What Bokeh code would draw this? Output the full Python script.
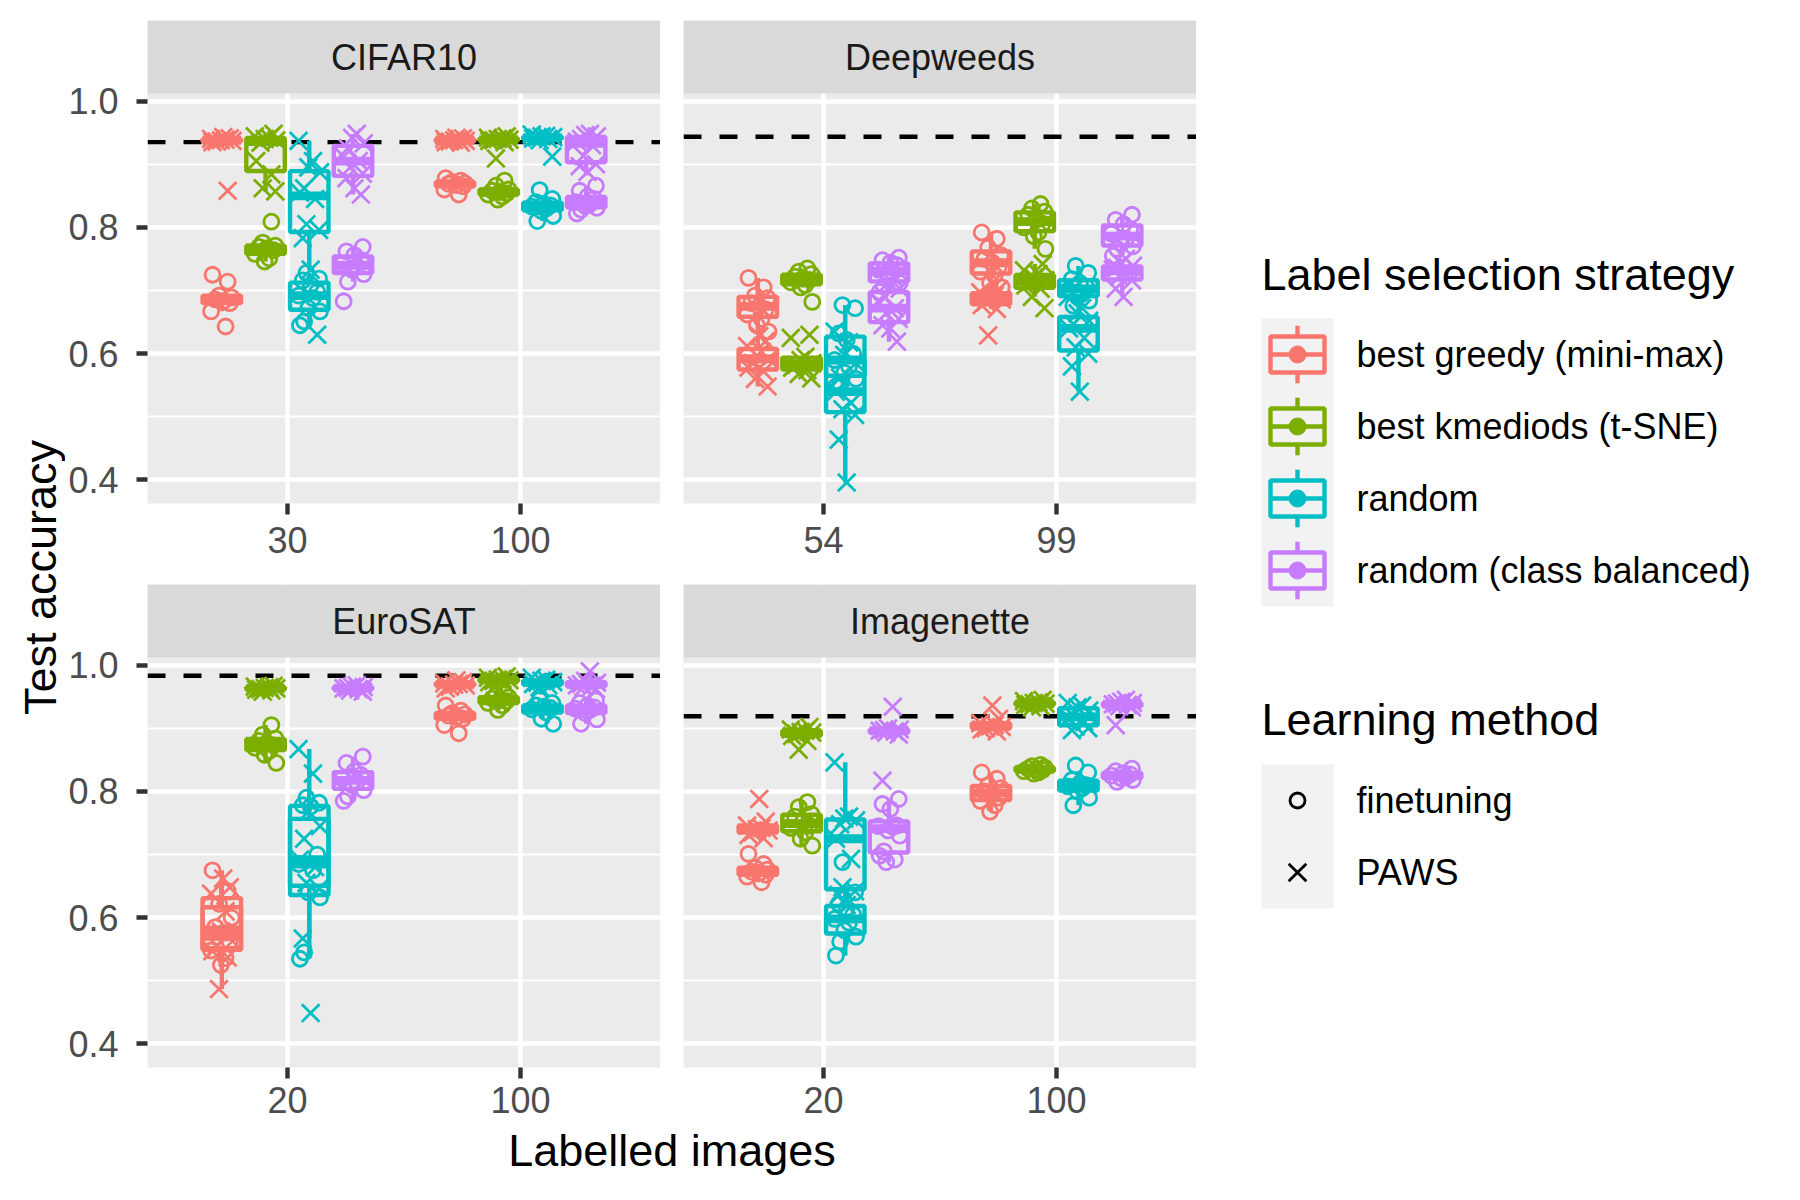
import numpy as np
from bokeh.plotting import figure
from bokeh.models import Range1d, LinearAxis, FixedTicker, Grid, Span, NumeralTickFormatter
from bokeh.layouts import row, column
from bokeh.embed import file_html
from bokeh.resources import INLINE
from bokeh.core.properties import value

FONT = "Liberation Sans"

STRATEGIES = ["best greedy (mini-max)", "best kmediods (t-SNE)", "random", "random (class balanced)"]
STRATEGY_COLORS = ["#F8766D", "#7CAE00", "#00BFC4", "#C77CFF"]
METHODS = ["finetuning", "PAWS"]
METHOD_MARKERS = ["circle", "x"]

DATASETS = ["CIFAR10", "Deepweeds", "EuroSAT", "Imagenette"]
CIFAR10_LABELLED = ["30", "100"]
DEEPWEEDS_LABELLED = ["54", "99"]
EUROSAT_LABELLED = ["20", "100"]
IMAGENETTE_LABELLED = ["20", "100"]
FULLY_SUPERVISED = [0.935, 0.9435, 0.983, 0.919]

# [first labelled count, second labelled count] -> one list of accuracies per strategy
CIFAR10_FINETUNING = [
    [[0.725, 0.714, 0.692, 0.689, 0.686, 0.683, 0.680, 0.667, 0.643],
     [0.809, 0.776, 0.771, 0.769, 0.767, 0.764, 0.758, 0.751, 0.746],
     [0.728, 0.719, 0.716, 0.709, 0.698, 0.692, 0.688, 0.672, 0.667, 0.651, 0.645],
     [0.769, 0.762, 0.756, 0.748, 0.742, 0.738, 0.733, 0.726, 0.714, 0.683]],
    [[0.878, 0.874, 0.872, 0.870, 0.869, 0.867, 0.865, 0.860, 0.852],
     [0.874, 0.866, 0.860, 0.858, 0.856, 0.854, 0.852, 0.849, 0.844],
     [0.859, 0.845, 0.840, 0.837, 0.835, 0.833, 0.830, 0.826, 0.818, 0.810],
     [0.866, 0.858, 0.849, 0.845, 0.840, 0.837, 0.834, 0.831, 0.828, 0.822]],
]
CIFAR10_PAWS = [
    [[0.943, 0.941, 0.940, 0.939, 0.938, 0.937, 0.936, 0.935, 0.858],
     [0.948, 0.944, 0.942, 0.940, 0.938, 0.934, 0.905, 0.884, 0.862, 0.857],
     [0.937, 0.905, 0.895, 0.887, 0.862, 0.855, 0.845, 0.805, 0.796, 0.783, 0.733, 0.630],
     [0.948, 0.942, 0.933, 0.925, 0.912, 0.905, 0.895, 0.885, 0.878, 0.862, 0.852]],
    [[0.942, 0.941, 0.940, 0.939, 0.938, 0.937, 0.936, 0.935, 0.934],
     [0.944, 0.942, 0.941, 0.940, 0.939, 0.938, 0.937, 0.935, 0.909],
     [0.947, 0.945, 0.944, 0.943, 0.942, 0.941, 0.940, 0.938, 0.912],
     [0.948, 0.946, 0.944, 0.940, 0.936, 0.930, 0.913, 0.900, 0.897, 0.888]],
]
DEEPWEEDS_FINETUNING = [
    [[0.720, 0.705, 0.692, 0.688, 0.680, 0.675, 0.670, 0.662, 0.655, 0.645, 0.635],
     [0.735, 0.730, 0.726, 0.722, 0.719, 0.717, 0.713, 0.709, 0.705, 0.682],
     [0.677, 0.672, 0.632, 0.622, 0.600, 0.590, 0.580, 0.570, 0.560, 0.552, 0.548],
     [0.752, 0.748, 0.744, 0.740, 0.733, 0.728, 0.722, 0.712, 0.706, 0.698]],
    [[0.792, 0.782, 0.768, 0.756, 0.750, 0.744, 0.738, 0.730, 0.724, 0.712, 0.705],
     [0.837, 0.830, 0.825, 0.820, 0.812, 0.806, 0.800, 0.792, 0.786, 0.766],
     [0.739, 0.728, 0.718, 0.712, 0.705, 0.700, 0.695, 0.690, 0.684, 0.676],
     [0.820, 0.812, 0.805, 0.797, 0.790, 0.782, 0.775, 0.770, 0.766, 0.755]],
]
DEEPWEEDS_PAWS = [
    [[0.628, 0.620, 0.612, 0.603, 0.597, 0.592, 0.585, 0.578, 0.572, 0.560, 0.548],
     [0.630, 0.625, 0.595, 0.590, 0.585, 0.582, 0.578, 0.574, 0.568, 0.561],
     [0.635, 0.618, 0.598, 0.585, 0.562, 0.540, 0.522, 0.512, 0.503, 0.464, 0.396],
     [0.722, 0.712, 0.703, 0.692, 0.680, 0.672, 0.664, 0.655, 0.645, 0.640, 0.619]],
    [[0.712, 0.702, 0.697, 0.692, 0.689, 0.686, 0.682, 0.677, 0.671, 0.629],
     [0.742, 0.732, 0.726, 0.720, 0.716, 0.713, 0.708, 0.703, 0.690, 0.672],
     [0.690, 0.672, 0.664, 0.652, 0.647, 0.640, 0.625, 0.610, 0.600, 0.580, 0.540],
     [0.750, 0.743, 0.739, 0.736, 0.733, 0.729, 0.722, 0.716, 0.703, 0.690]],
]
EUROSAT_FINETUNING = [
    [[0.675, 0.642, 0.622, 0.600, 0.585, 0.576, 0.562, 0.548, 0.536, 0.525],
     [0.905, 0.890, 0.884, 0.880, 0.876, 0.873, 0.869, 0.864, 0.858, 0.845],
     [0.790, 0.782, 0.778, 0.776, 0.700, 0.685, 0.675, 0.640, 0.632, 0.545, 0.535],
     [0.855, 0.845, 0.832, 0.826, 0.820, 0.815, 0.810, 0.802, 0.792, 0.785]],
    [[0.936, 0.928, 0.924, 0.922, 0.920, 0.918, 0.915, 0.905, 0.892],
     [0.955, 0.952, 0.949, 0.947, 0.945, 0.943, 0.940, 0.936, 0.929],
     [0.945, 0.940, 0.936, 0.934, 0.932, 0.930, 0.925, 0.915, 0.907],
     [0.944, 0.940, 0.936, 0.933, 0.931, 0.929, 0.924, 0.914, 0.907]],
]
EUROSAT_PAWS = [
    [[0.662, 0.648, 0.638, 0.610, 0.578, 0.563, 0.556, 0.547, 0.537, 0.487],
     [0.967, 0.966, 0.965, 0.964, 0.963, 0.962, 0.961, 0.960, 0.958],
     [0.867, 0.828, 0.768, 0.745, 0.725, 0.692, 0.680, 0.655, 0.646, 0.567, 0.449],
     [0.968, 0.966, 0.965, 0.964, 0.963, 0.962, 0.960, 0.958]],
    [[0.976, 0.973, 0.971, 0.970, 0.969, 0.968, 0.966, 0.963],
     [0.982, 0.980, 0.978, 0.977, 0.976, 0.975, 0.973, 0.971],
     [0.980, 0.977, 0.975, 0.973, 0.972, 0.970, 0.968, 0.965],
     [0.990, 0.975, 0.972, 0.970, 0.968, 0.967, 0.965, 0.962]],
]
IMAGENETTE_FINETUNING = [
    [[0.701, 0.685, 0.679, 0.676, 0.673, 0.671, 0.668, 0.665, 0.656],
     [0.783, 0.775, 0.764, 0.760, 0.752, 0.746, 0.742, 0.735, 0.725, 0.714],
     [0.688, 0.640, 0.622, 0.615, 0.605, 0.598, 0.592, 0.580, 0.570, 0.562, 0.540],
     [0.788, 0.780, 0.772, 0.746, 0.745, 0.744, 0.738, 0.730, 0.705, 0.698, 0.692, 0.688]],
    [[0.830, 0.820, 0.810, 0.805, 0.800, 0.795, 0.790, 0.785, 0.778, 0.768],
     [0.842, 0.840, 0.838, 0.836, 0.835, 0.834, 0.832, 0.830, 0.828],
     [0.841, 0.830, 0.818, 0.813, 0.810, 0.808, 0.805, 0.800, 0.790, 0.778],
     [0.836, 0.832, 0.829, 0.827, 0.825, 0.823, 0.821, 0.818, 0.815]],
]
IMAGENETTE_PAWS = [
    [[0.788, 0.752, 0.746, 0.742, 0.740, 0.738, 0.735, 0.731, 0.726],
     [0.902, 0.898, 0.896, 0.894, 0.893, 0.891, 0.888, 0.880, 0.866],
     [0.846, 0.760, 0.757, 0.754, 0.748, 0.725, 0.693, 0.648, 0.642, 0.636, 0.620],
     [0.934, 0.900, 0.898, 0.897, 0.896, 0.895, 0.893, 0.890, 0.817]],
    [[0.936, 0.915, 0.908, 0.905, 0.903, 0.902, 0.900, 0.898, 0.895],
     [0.945, 0.943, 0.941, 0.940, 0.939, 0.938, 0.937, 0.935, 0.933],
     [0.940, 0.936, 0.933, 0.928, 0.920, 0.916, 0.910, 0.903, 0.900, 0.897],
     [0.945, 0.942, 0.940, 0.939, 0.938, 0.937, 0.935, 0.933, 0.905]],
]

# ---------------------------------------------------------------- styling
PANEL_PX = 410          # height of the data area of a panel
STRIP_PX = 73           # height of the facet strip above it
X_RANGE = (0.4, 2.6)
Y_TOP_DATA = 1.012
Y_BOTTOM = Y_TOP_DATA - PANEL_PX / 631.5
STRIP_TOP = Y_TOP_DATA + STRIP_PX * (Y_TOP_DATA - Y_BOTTOM) / PANEL_PX
DODGE = [-0.28125, -0.09375, 0.09375, 0.28125]
BOX_W = 0.165
JITTER = [-0.040, 0.025, -0.012, 0.042, -0.028, 0.006, 0.034, -0.046, 0.016, -0.004, 0.046, -0.022]
LW = 4.4
CIRCLE_SIZE = 15
X_SIZE = 25
PANEL_BG = "#EBEBEB"
STRIP_BG = "#D9D9D9"


def box_stats(v):
    v = np.asarray(v, dtype=float)
    q1, med, q3 = np.percentile(v, [25, 50, 75])
    iqr = q3 - q1
    lo = v[v >= q1 - 1.5 * iqr].min()
    hi = v[v <= q3 + 1.5 * iqr].max()
    return q1, med, q3, lo, hi


def base_fig(width, height, xr, yr, left=0, right=0, top=0, bottom=0, bg="white"):
    return figure(width=width, height=height, x_range=Range1d(*xr), y_range=Range1d(*yr),
                  output_backend="svg", toolbar_location=None,
                  x_axis_type=None, y_axis_type=None,
                  min_border_left=left, min_border_right=right,
                  min_border_top=top, min_border_bottom=bottom,
                  background_fill_color=bg, border_fill_color="white",
                  outline_line_color=None)


def make_panel(name, ticks, ft, paws, ref, width, height, left, top, bottom, show_y, standoff):
    p = base_fig(width, height, X_RANGE, (Y_BOTTOM, STRIP_TOP), left=left, top=top,
                 bottom=bottom, bg=PANEL_BG)
    xt = FixedTicker(ticks=[1, 2])
    yt = FixedTicker(ticks=[0.4, 0.6, 0.8, 1.0], minor_ticks=[0.5, 0.7, 0.9])
    p.add_layout(Grid(dimension=0, ticker=xt, grid_line_color="white", grid_line_width=LW))
    p.add_layout(Grid(dimension=1, ticker=yt, grid_line_color="white", grid_line_width=LW,
                      minor_grid_line_color="white", minor_grid_line_width=LW / 2))
    p.add_layout(Span(location=ref, dimension="width", line_color="black", line_width=LW,
                      line_dash="18 18", level="underlay"))

    # facet strip
    p.quad(left=[X_RANGE[0]], right=[X_RANGE[1]], bottom=[Y_TOP_DATA], top=[STRIP_TOP],
           fill_color=STRIP_BG, line_color=None)
    p.text(x=[sum(X_RANGE) / 2], y=[(Y_TOP_DATA + STRIP_TOP) / 2], text=[name],
           text_align="center", text_baseline="middle", text_font=value(FONT),
           text_font_size="36px", text_color="#1A1A1A")

    xa = LinearAxis(ticker=xt, major_label_overrides={1: ticks[0], 2: ticks[1]},
                    axis_line_color=None, major_tick_line_color="#333333",
                    major_tick_line_width=LW, major_tick_out=11, major_tick_in=0,
                    minor_tick_line_color=None, major_label_standoff=standoff,
                    major_label_text_font=FONT, major_label_text_font_size="36px",
                    major_label_text_color="#4D4D4D")
    p.add_layout(xa, "below")
    if show_y:
        ya = LinearAxis(ticker=yt, formatter=NumeralTickFormatter(format="0.0"),
                        axis_line_color=None, major_tick_line_color="#333333",
                        major_tick_line_width=LW, major_tick_out=11, major_tick_in=0,
                        minor_tick_line_color=None, major_label_standoff=18,
                        major_label_text_font=FONT, major_label_text_font_size="36px",
                        major_label_text_color="#4D4D4D")
        p.add_layout(ya, "left")

    # boxplots
    bx, bq1, bmed, bq3, blo, bhi, bcol = [], [], [], [], [], [], []
    for groups in (ft, paws):
        for ci, per_strategy in enumerate(groups):
            for si, vals in enumerate(per_strategy):
                q1, med, q3, lo, hi = box_stats(vals)
                bx.append(ci + 1 + DODGE[si])
                bq1.append(q1); bmed.append(med); bq3.append(q3)
                blo.append(lo); bhi.append(hi); bcol.append(STRATEGY_COLORS[si])
    bx = np.array(bx)
    p.segment(x0=bx, y0=bq3, x1=bx, y1=bhi, line_color=bcol, line_width=LW)
    p.segment(x0=bx, y0=blo, x1=bx, y1=bq1, line_color=bcol, line_width=LW)
    p.vbar(x=bx, width=BOX_W, top=bq3, bottom=bq1, fill_color=None, line_color=bcol,
           line_width=LW)
    p.segment(x0=bx - BOX_W / 2, y0=bmed, x1=bx + BOX_W / 2, y1=bmed, line_color=bcol,
              line_width=2 * LW)

    # jittered points
    for mi, groups in enumerate((ft, paws)):
        px, py, pc = [], [], []
        for ci, per_strategy in enumerate(groups):
            for si, vals in enumerate(per_strategy):
                for k, v in enumerate(vals):
                    px.append(ci + 1 + DODGE[si] + JITTER[(k + 5 * mi + si) % len(JITTER)])
                    py.append(v)
                    pc.append(STRATEGY_COLORS[si])
        if METHOD_MARKERS[mi] == "circle":
            p.scatter(px, py, marker="circle", size=CIRCLE_SIZE, fill_color=None,
                      line_color=pc, line_width=2.8)
        else:
            p.scatter(px, py, marker="x", size=X_SIZE, line_color=pc, line_width=2.8)
    return p


# ---------------------------------------------------------------- layout
YT_W = 65
W_LEFT, W_RIGHT = 595, 536
B_LEFT, B_RIGHT = 82, 23
TOP_PAD = 20
FRAME_H = PANEL_PX + STRIP_PX
BOT_TOP, BOT_BOTTOM = 81, 58

h_top = TOP_PAD + FRAME_H + BOT_TOP
h_bot = FRAME_H + BOT_BOTTOM

panel_a = make_panel(DATASETS[0], CIFAR10_LABELLED, CIFAR10_FINETUNING, CIFAR10_PAWS,
                     FULLY_SUPERVISED[0], W_LEFT, h_top, B_LEFT, TOP_PAD, BOT_TOP, True, 12)
panel_b = make_panel(DATASETS[1], DEEPWEEDS_LABELLED, DEEPWEEDS_FINETUNING, DEEPWEEDS_PAWS,
                     FULLY_SUPERVISED[1], W_RIGHT, h_top, B_RIGHT, TOP_PAD, BOT_TOP, False, 12)
panel_c = make_panel(DATASETS[2], EUROSAT_LABELLED, EUROSAT_FINETUNING, EUROSAT_PAWS,
                     FULLY_SUPERVISED[2], W_LEFT, h_bot, B_LEFT, 0, BOT_BOTTOM, True, 8)
panel_d = make_panel(DATASETS[3], IMAGENETTE_LABELLED, IMAGENETTE_FINETUNING, IMAGENETTE_PAWS,
                     FULLY_SUPERVISED[3], W_RIGHT, h_bot, B_RIGHT, 0, BOT_BOTTOM, False, 8)

grid_h = h_top + h_bot
ytitle = base_fig(YT_W, grid_h, (0, YT_W), (grid_h, 0))
ytitle.text(x=[40], y=[577], text=["Test accuracy"], angle=np.pi / 2, text_align="center",
            text_baseline="middle", text_font=value(FONT), text_font_size="45px",
            text_color="black")

TOTAL_H = 1184
xt_h = TOTAL_H - grid_h
xt_w = YT_W + W_LEFT + W_RIGHT
xtitle = base_fig(xt_w, xt_h, (0, xt_w), (xt_h, 0))
xtitle.text(x=[YT_W + B_LEFT + (W_LEFT - B_LEFT + W_RIGHT) / 2], y=[25],
            text=["Labelled images"], text_align="center", text_baseline="middle",
            text_font=value(FONT), text_font_size="45px", text_color="black")

# legend
LG_W = 1784 - xt_w
lg = base_fig(LG_W, TOTAL_H, (0, LG_W), (TOTAL_H, 0))
KEY = 72
KEY_LEFT = 1261 - xt_w
TEXT_LEFT = KEY_LEFT + 95
cx = KEY_LEFT + KEY / 2

top1 = 318
lg.text(x=[KEY_LEFT], y=[274], text=["Label selection strategy"], text_align="left",
        text_baseline="middle", text_font=value(FONT), text_font_size="45px", text_color="black")
lg.quad(left=[KEY_LEFT], right=[KEY_LEFT + KEY], top=[top1], bottom=[top1 + KEY * len(STRATEGIES)],
        fill_color="#F2F2F2", line_color=None)
rows1 = np.array([top1 + KEY * (i + 0.5) for i in range(len(STRATEGIES))])
lg.segment(x0=[cx] * 4, y0=rows1 - 0.4 * KEY, x1=[cx] * 4, y1=rows1 - 0.25 * KEY,
           line_color=STRATEGY_COLORS, line_width=LW)
lg.segment(x0=[cx] * 4, y0=rows1 + 0.25 * KEY, x1=[cx] * 4, y1=rows1 + 0.4 * KEY,
           line_color=STRATEGY_COLORS, line_width=LW)
lg.rect(x=[cx] * 4, y=rows1, width=0.75 * KEY, height=0.5 * KEY, fill_color=None,
        line_color=STRATEGY_COLORS, line_width=LW)
lg.segment(x0=[cx - 0.375 * KEY] * 4, y0=rows1, x1=[cx + 0.375 * KEY] * 4, y1=rows1,
           line_color=STRATEGY_COLORS, line_width=LW)
lg.scatter(x=[cx] * 4, y=rows1, marker="circle", size=17, fill_color=STRATEGY_COLORS,
           line_color=STRATEGY_COLORS)
lg.text(x=[TEXT_LEFT] * 4, y=rows1, text=STRATEGIES, text_align="left", text_baseline="middle",
        text_font=value(FONT), text_font_size="36px", text_color="black")

top2 = 764
lg.text(x=[KEY_LEFT], y=[719], text=["Learning method"], text_align="left",
        text_baseline="middle", text_font=value(FONT), text_font_size="45px", text_color="black")
lg.quad(left=[KEY_LEFT], right=[KEY_LEFT + KEY], top=[top2], bottom=[top2 + KEY * len(METHODS)],
        fill_color="#F2F2F2", line_color=None)
rows2 = [top2 + KEY * (i + 0.5) for i in range(len(METHODS))]
lg.scatter(x=[cx], y=[rows2[0]], marker="circle", size=CIRCLE_SIZE, fill_color=None,
           line_color="black", line_width=2.8)
lg.scatter(x=[cx], y=[rows2[1]], marker="x", size=X_SIZE, line_color="black", line_width=2.8)
lg.text(x=[TEXT_LEFT] * 2, y=rows2, text=METHODS, text_align="left", text_baseline="middle",
        text_font=value(FONT), text_font_size="36px", text_color="black")

panels = column(row(panel_a, panel_b), row(panel_c, panel_d))
left_block = column(row(ytitle, panels), xtitle)
layout = row(left_block, lg)

open("out.html", "w").write(file_html(layout, INLINE))
